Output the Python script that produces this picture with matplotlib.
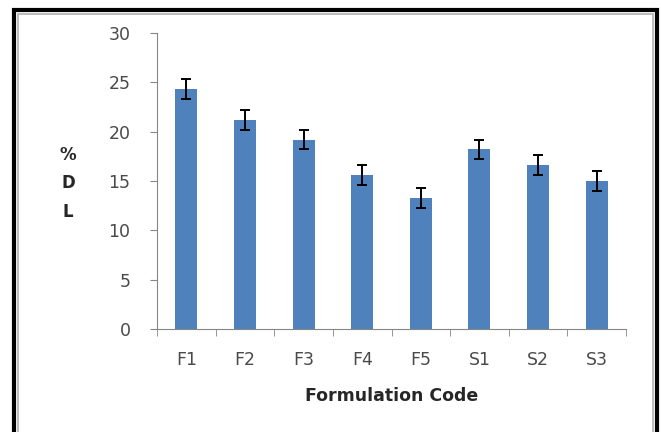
import numpy as np
import matplotlib
matplotlib.use('Agg')
import matplotlib.pyplot as plt
from matplotlib.patches import Rectangle

codes = ['F1', 'F2', 'F3', 'F4', 'F5', 'S1', 'S2', 'S3']
dl = [24.3, 21.2, 19.2, 15.6, 13.3, 18.2, 16.6, 15.0]
err = [1.0, 1.0, 1.0, 1.0, 1.0, 1.0, 1.0, 1.0]

W, H = 661, 432
fig = plt.figure(figsize=(W/100, H/100), dpi=100)
plt.rcParams['font.family'] = ['DejaVu Sans']

# frame around the chart (black outer, gray inner)
fig.patches.append(Rectangle((14/W, -0.2), (657-14)/W, 1.2 - 10/H,
                             transform=fig.transFigure, fill=False,
                             edgecolor='black', linewidth=3.0))
fig.patches.append(Rectangle((17.5/W, -0.2), (652.5-17.5)/W, 1.2 - 13.5/H,
                             transform=fig.transFigure, fill=False,
                             edgecolor='#b0b0b0', linewidth=1.2))

ax = fig.add_axes([157/W, 1-329/H, (626-157)/W, (329-33)/H])
x = np.arange(len(codes))
ax.bar(x, dl, width=0.375, color='#4F81BD', zorder=2)
ax.errorbar(x, dl, yerr=err, fmt='none', ecolor='black', elinewidth=1.4,
            capsize=3.8, capthick=1.4, zorder=3)

ax.set_xlim(-0.5, len(codes)-0.5)
ax.set_ylim(0, 30)
ax.set_yticks(range(0, 31, 5))
ax.set_xticks(x)
ax.set_xticklabels(codes)
ax.set_xticks(np.arange(-0.5, len(codes), 1), minor=True)
ax.tick_params(axis='x', which='major', length=0, pad=16, labelsize=12.5, labelcolor='#4a4a4a')
ax.tick_params(axis='x', which='minor', length=5, color='#868686', direction='out')
ax.tick_params(axis='y', length=5, color='#868686', pad=14, labelsize=12.5, labelcolor='#4a4a4a')

for s in ['top', 'right']:
    ax.spines[s].set_visible(False)
for s in ['left', 'bottom']:
    ax.spines[s].set_color('#868686')

ax.set_xlabel('Formulation Code', fontsize=12.5, fontweight='bold', color='#262626', labelpad=13)
fig.text(68/W, 1-183/H, '%\nD\nL', ha='center', va='center', fontsize=12,
         fontweight='bold', color='#262626', linespacing=1.75)

fig.savefig('out.png', dpi=100)
